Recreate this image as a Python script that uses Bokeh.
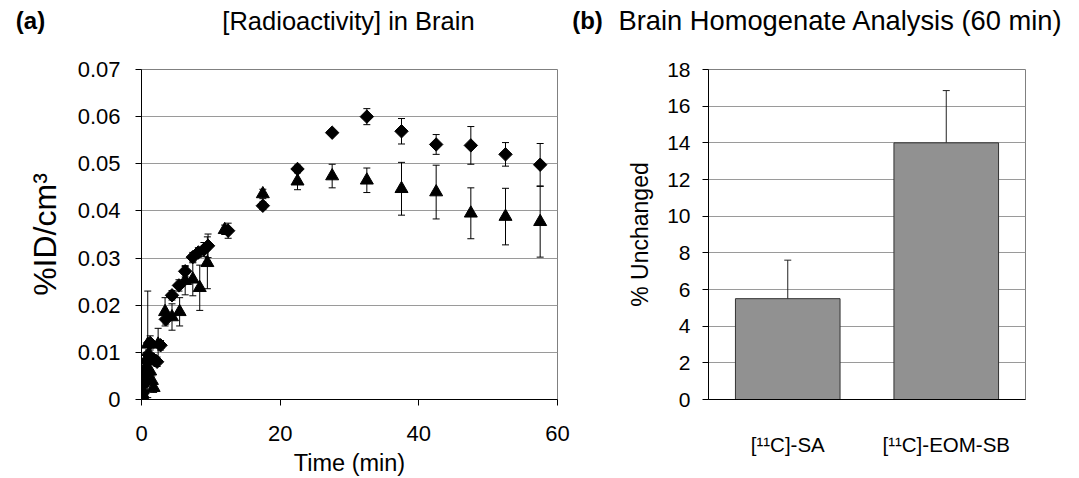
from bokeh.plotting import figure
from bokeh.layouts import row, column
from bokeh.models import (ColumnDataSource, Whisker, TeeHead, Range1d, FixedTicker,
                          CustomJSTickFormatter, FactorRange)
from bokeh.core.properties import value
from bokeh.embed import file_html
from bokeh.resources import INLINE

FONT = "Liberation Sans"

# ---------------- data: panel (a) ----------------
dia_t = [0.1, 0.25, 0.4, 0.6, 0.8, 1.0, 1.25, 1.75, 2.25, 2.75, 3.5, 4.4, 5.4, 6.3, 7.4, 8.2, 9.0, 9.6,
         12.5, 17.5, 22.5, 27.5, 32.5, 37.5, 42.5, 47.5, 52.5, 57.5]
dia_v = [0.0005, 0.0015, 0.0035, 0.0055, 0.0080, 0.0095, 0.0120, 0.0085, 0.0080, 0.0115, 0.0170, 0.0221,
         0.0242, 0.0272, 0.0302, 0.0312, 0.0318, 0.0326,
         0.0358, 0.0411, 0.0489, 0.0566, 0.0600, 0.0569, 0.0541, 0.0539, 0.0520, 0.0498]
dia_e = [0.0005, 0.0008, 0.0010, 0.0010, 0.0010, 0.0010, 0.0015, 0.0010, 0.0010, 0.0010, 0.0010, 0.0010,
         0.0012, 0.0012, 0.0010, 0.0010, 0.0015, 0.0025,
         0.0016, 0.0008, 0.0008, 0.0004, 0.0017, 0.0027, 0.0021, 0.0040, 0.0025, 0.0045]

tri_t = [0.1, 0.2, 0.35, 0.5, 0.7, 0.9, 1.25, 1.5, 1.75, 2.4, 3.4, 4.4, 5.5, 6.3, 7.4, 8.4, 9.5,
         12.0, 17.5, 22.5, 27.5, 32.5, 37.5, 42.5, 47.5, 52.5, 57.5]
tri_v = [0.0010, 0.0035, 0.0050, 0.0065, 0.0085, 0.0117, 0.0060, 0.0040, 0.0025, 0.0117, 0.0186, 0.0175,
         0.0186, 0.0252, 0.0255, 0.0237, 0.0290,
         0.0360, 0.0436, 0.0463, 0.0474, 0.0465, 0.0447, 0.0440, 0.0395, 0.0388, 0.0377]
tri_e = [0.0008, 0.0010, 0.0010, 0.0012, 0.0015, 0.0113, 0.0015, 0.0010, 0.0010, 0.0034, 0.0030, 0.0028,
         0.0030, 0.0030, 0.0035, 0.0048, 0.0055,
         0.0010, 0.0010, 0.0018, 0.0025, 0.0026, 0.0056, 0.0057, 0.0054, 0.0060, 0.0075]

y_ticks_a = [0, 0.01, 0.02, 0.03, 0.04, 0.05, 0.06, 0.07]
x_ticks_a = [0, 20, 40, 60]

# ---------------- data: panel (b) ----------------
cats = ["[¹¹C]-SA", "[¹¹C]-EOM-SB"]
pct = [5.5, 14.0]
pct_err = [2.1, 2.85]
y_ticks_b = [0, 2, 4, 6, 8, 10, 12, 14, 16, 18]

# ---------------- heading texts ----------------
panel_tags = ["(a)", "(b)"]
panel_titles = ["[Radioactivity] in Brain", "Brain Homogenate Analysis (60 min)"]

STRIP_H = 40
TOTAL_W = 1065


def style_axes(p, tick_size):
    for ax in (p.xaxis[0], p.yaxis[0]):
        ax.axis_line_color = "black"
        ax.axis_line_width = 1
        ax.major_tick_line_color = "black"
        ax.minor_tick_line_color = None
        ax.major_tick_in = 0
        ax.major_tick_out = 6
        ax.major_label_text_font = FONT
        ax.major_label_text_font_size = tick_size
        ax.major_label_text_color = "black"
        ax.axis_label_text_font = FONT
        ax.axis_label_text_font_style = "normal"
        ax.axis_label_text_color = "black"
    p.xgrid.grid_line_color = None
    p.ygrid.grid_line_color = "#9a9a9a"
    p.ygrid.grid_line_width = 1
    p.outline_line_color = "#808080"
    p.outline_line_width = 1


# ---------------- heading strip (pixel coordinates) ----------------
head = figure(width=TOTAL_W, height=STRIP_H, output_backend="svg", toolbar_location=None,
              x_range=Range1d(0, TOTAL_W), y_range=Range1d(0, STRIP_H),
              min_border=0, x_axis_type=None, y_axis_type=None)
head.grid.grid_line_color = None
head.outline_line_color = None
head.text(x=[30, 587], y=[STRIP_H - 20, STRIP_H - 20], text=panel_tags,
          text_align="center", text_baseline="middle", text_font=value(FONT),
          text_font_size="24px", text_font_style="bold", text_color="black")
head.text(x=[348], y=[STRIP_H - 20], text=panel_titles[:1],
          text_align="center", text_baseline="middle", text_font=value(FONT),
          text_font_size="25.5px", text_color="black")
head.text(x=[618], y=[STRIP_H - 20], text=panel_titles[1:],
          text_align="left", text_baseline="middle", text_font=value(FONT),
          text_font_size="27.3px", text_color="black")

# ---------------- panel (a) ----------------
pa = figure(width=575, height=478 - STRIP_H, output_backend="svg", toolbar_location=None,
            x_range=Range1d(0, 60), y_range=Range1d(0, 0.07),
            min_border_left=141, min_border_right=18, min_border_top=69 - STRIP_H, min_border_bottom=74)
style_axes(pa, "22px")
pa.yaxis.ticker = FixedTicker(ticks=y_ticks_a)
pa.xaxis.ticker = FixedTicker(ticks=x_ticks_a)
pa.ygrid.ticker = FixedTicker(ticks=y_ticks_a)
pa.yaxis.formatter = CustomJSTickFormatter(code="return tick == 0 ? '0' : tick.toFixed(2);")
pa.yaxis.axis_label = "%ID/cm³"
pa.yaxis.axis_label_text_font_size = "32px"
pa.yaxis.axis_label_standoff = 12
pa.yaxis.major_label_standoff = 15
pa.xaxis.axis_label = "Time (min)"
pa.xaxis.axis_label_text_font_size = "23.5px"
pa.xaxis.axis_label_standoff = 6
pa.xaxis.major_label_standoff = 20

src_d = ColumnDataSource(dict(t=dia_t, v=dia_v,
                              lo=[v - e for v, e in zip(dia_v, dia_e)],
                              hi=[v + e for v, e in zip(dia_v, dia_e)]))
src_t = ColumnDataSource(dict(t=tri_t, v=tri_v,
                              lo=[v - e for v, e in zip(tri_v, tri_e)],
                              hi=[v + e for v, e in zip(tri_v, tri_e)]))
for src in (src_d, src_t):
    w = Whisker(base="t", upper="hi", lower="lo", source=src, line_color="black", line_width=1,
                upper_head=TeeHead(size=7, line_color="black", line_width=1),
                lower_head=TeeHead(size=7, line_color="black", line_width=1),
                level="underlay")
    pa.add_layout(w)

pa.scatter("t", "v", source=src_d, marker="square", angle=0.785398, size=9.5,
           fill_color="black", line_color="black")
pa.scatter("t", "v", source=src_t, marker="triangle", size=13,
           fill_color="black", line_color="black")

# ---------------- panel (b) ----------------
pb = figure(width=490, height=478 - STRIP_H, output_backend="svg", toolbar_location=None,
            x_range=FactorRange(*cats), y_range=Range1d(0, 18),
            min_border_left=133, min_border_right=40, min_border_top=69 - STRIP_H, min_border_bottom=71)
style_axes(pb, "21px")
pb.yaxis.ticker = FixedTicker(ticks=y_ticks_b)
pb.ygrid.ticker = FixedTicker(ticks=y_ticks_b)
pb.yaxis.axis_label = "% Unchanged"
pb.yaxis.axis_label_text_font_size = "23px"
pb.yaxis.axis_label_standoff = 11
pb.yaxis.major_label_standoff = 12
pb.xaxis.major_tick_out = 0
pb.xaxis.major_label_text_font_size = "20.5px"
pb.xaxis.major_label_standoff = 33

src_b = ColumnDataSource(dict(c=cats, v=pct,
                              lo=[v - e for v, e in zip(pct, pct_err)],
                              hi=[v + e for v, e in zip(pct, pct_err)]))
pb.vbar(x="c", top="v", width=0.66, source=src_b, fill_color="#919191", line_color="#333333",
        line_width=1)
pb.add_layout(Whisker(base="c", upper="hi", lower="lo", source=src_b, line_color="#222222",
                      line_width=1,
                      upper_head=TeeHead(size=7, line_color="#222222", line_width=1),
                      lower_head=TeeHead(size=7, line_color="#222222", line_width=1)))

layout = column(head, row(pa, pb))
open("out.html", "w").write(file_html(layout, INLINE))
